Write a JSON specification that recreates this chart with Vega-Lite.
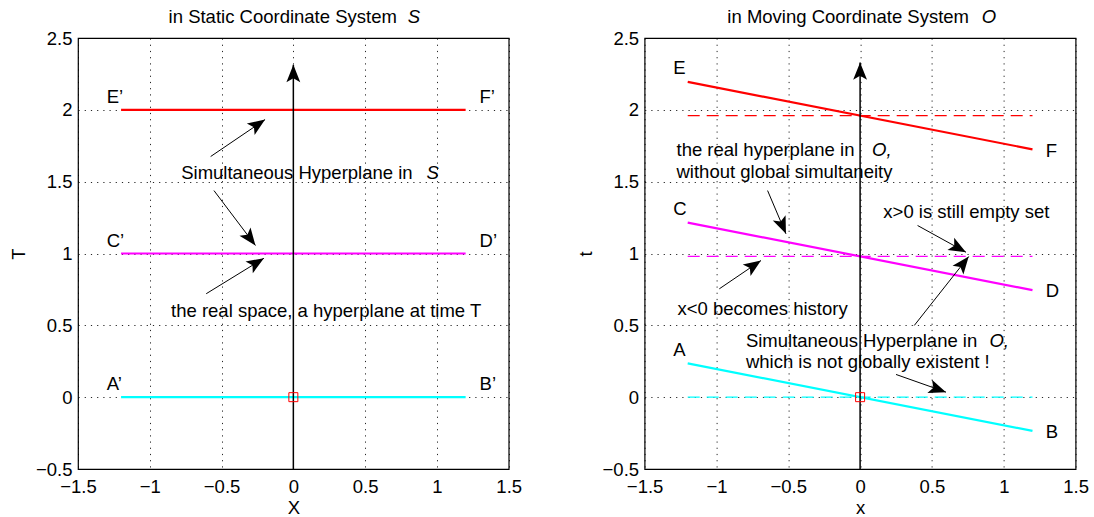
{
  "$schema": "https://vega.github.io/schema/vega-lite/v6.json",
  "background": "white",
  "padding": {"left": 8, "top": 7, "right": 5, "bottom": 0},
  "bounds": "flush",
  "spacing": 135.6,
  "config": {
    "view": {"stroke": "black", "strokeWidth": 1.2},
    "font": "Liberation Sans",
    "axis": {
      "grid": true, "gridColor": "black", "gridDash": [1.2, 5], "gridWidth": 1, "gridOpacity": 0.85,
      "domain": false, "ticks": false,
      "labelFont": "Liberation Sans", "labelFontSize": 18.5, "labelColor": "black",
      "labelFlush": false, "labelOverlap": false, "format": "~g",
      "titleFont": "Liberation Sans", "titleFontSize": 18.5, "titleFontWeight": "normal", "titleColor": "black"
    },
    "axisX": {"labelPadding": 8.5, "titlePadding": 2},
    "axisY": {"labelPadding": 6, "titlePadding": 7},
    "text": {"font": "Liberation Sans", "fontSize": 18.5, "color": "black", "align": "left", "baseline": "middle"}
  },
  "datasets": {
    "linesS": [
      {"s": "AB", "x": -1.2, "y": 0}, {"s": "AB", "x": 1.2, "y": 0},
      {"s": "CD", "x": -1.2, "y": 1}, {"s": "CD", "x": 1.2, "y": 1},
      {"s": "EF", "x": -1.2, "y": 2}, {"s": "EF", "x": 1.2, "y": 2}
    ],
    "linesO": [
      {"s": "AB", "x": -1.2, "y": 0.235}, {"s": "AB", "x": 1.2, "y": -0.235},
      {"s": "CD", "x": -1.2, "y": 1.215}, {"s": "CD", "x": 1.2, "y": 0.745},
      {"s": "EF", "x": -1.2, "y": 2.195}, {"s": "EF", "x": 1.2, "y": 1.725}
    ],
    "dashO": [
      {"s": "AB", "x": -1.2, "y": 0}, {"s": "AB", "x": 1.2, "y": 0},
      {"s": "CD", "x": -1.2, "y": 0.98}, {"s": "CD", "x": 1.2, "y": 0.98},
      {"s": "EF", "x": -1.2, "y": 1.96}, {"s": "EF", "x": 1.2, "y": 1.96}
    ],
    "origin": [{"x": 0, "y": 0}],
    "arrS": [
      {"k": "axis", "x1": 0, "y1": -0.5, "x2": 0, "y2": 2.313},
      {"k": "note", "x1": -0.576, "y1": 1.675, "x2": -0.197, "y2": 1.932},
      {"k": "note", "x1": -0.553, "y1": 1.438, "x2": -0.264, "y2": 1.056},
      {"k": "note", "x1": -0.607, "y1": 0.72, "x2": -0.205, "y2": 0.967}
    ],
    "arrO": [
      {"k": "axis", "x1": 0, "y1": -0.5, "x2": 0, "y2": 2.33},
      {"k": "note", "x1": -0.644, "y1": 1.438, "x2": -0.516, "y2": 1.137},
      {"k": "note", "x1": 0.4, "y1": 1.195, "x2": 0.737, "y2": 1.009},
      {"k": "note", "x1": -0.98, "y1": 0.754, "x2": -0.69, "y2": 0.951},
      {"k": "note", "x1": 0.25, "y1": 0.158, "x2": 0.598, "y2": 0.035},
      {"k": "note", "x1": 0.377, "y1": 0.499, "x2": 0.756, "y2": 0.979}
    ],
    "lblS": [
      {"t": "E’", "x": -1.3, "y": 2.09}, {"t": "F’", "x": 1.297, "y": 2.09},
      {"t": "C’", "x": -1.3, "y": 1.09}, {"t": "D’", "x": 1.297, "y": 1.09},
      {"t": "A’", "x": -1.3, "y": 0.095}, {"t": "B’", "x": 1.297, "y": 0.095}
    ],
    "lblO": [
      {"t": "E", "x": -1.3, "y": 2.29}, {"t": "F", "x": 1.292, "y": 1.712},
      {"t": "C", "x": -1.3, "y": 1.311}, {"t": "D", "x": 1.292, "y": 0.736},
      {"t": "A", "x": -1.3, "y": 0.33}, {"t": "B", "x": 1.292, "y": -0.244}
    ],
    "noteS": [
      {"t": "in Static Coordinate System", "x": -0.869, "y": 2.645, "it": false},
      {"t": "S", "x": 0.797, "y": 2.645, "it": true},
      {"t": "Simultaneous Hyperplane in", "x": -0.781, "y": 1.559, "it": false},
      {"t": "S", "x": 0.928, "y": 1.559, "it": true},
      {"t": "the real space, a hyperplane at time T", "x": -0.852, "y": 0.603, "it": false}
    ],
    "noteO": [
      {"t": "in Moving Coordinate System", "x": -0.924, "y": 2.645, "it": false},
      {"t": "O", "x": 0.846, "y": 2.645, "it": true},
      {"t": "the real hyperplane  in", "x": -1.278, "y": 1.717, "it": false},
      {"t": "O,", "x": 0.083, "y": 1.717, "it": true},
      {"t": "without global simultaneity", "x": -1.278, "y": 1.566, "it": false},
      {"t": "x>0 is still empty set", "x": 0.162, "y": 1.287, "it": false},
      {"t": "x<0 becomes history", "x": -1.271, "y": 0.615, "it": false},
      {"t": "Simultaneous Hyperplane in", "x": -0.795, "y": 0.39, "it": false},
      {"t": "O,", "x": 0.9, "y": 0.39, "it": true},
      {"t": "which is not globally existent !", "x": -0.795, "y": 0.248, "it": false}
    ]
  },
  "hconcat": [
    {
      "width": 430.7,
      "height": 431,
      "layer": [
        {
          "data": {"name": "linesS"},
          "mark": {"type": "line", "strokeWidth": 2.2},
          "encoding": {
            "x": {"field": "x", "type": "quantitative", "scale": {"domain": [-1.5, 1.5], "nice": false, "zero": false}, "axis": {"values": [-1.5, -1, -0.5, 0, 0.5, 1, 1.5], "title": "X"}},
            "y": {"field": "y", "type": "quantitative", "scale": {"domain": [-0.5, 2.5], "nice": false, "zero": false}, "axis": {"values": [-0.5, 0, 0.5, 1, 1.5, 2, 2.5], "title": "T"}},
            "color": {"field": "s", "type": "nominal", "scale": {"domain": ["AB", "CD", "EF"], "range": ["#00ffff", "#ff00ff", "#ff0000"]}, "legend": null},
            "detail": {"field": "s"}
          }
        },
        {
          "data": {"name": "arrS"},
          "transform": [{"filter": "datum.k == 'axis'"}],
          "mark": {"type": "rule", "strokeWidth": 1.5, "color": "black"},
          "encoding": {"x": {"field": "x1", "type": "quantitative"}, "y": {"field": "y1", "type": "quantitative"}, "x2": {"field": "x2"}, "y2": {"field": "y2"}}
        },
        {
          "data": {"name": "arrS"},
          "transform": [{"filter": "datum.k == 'note'"}],
          "mark": {"type": "rule", "strokeWidth": 1, "color": "black"},
          "encoding": {"x": {"field": "x1", "type": "quantitative"}, "y": {"field": "y1", "type": "quantitative"}, "x2": {"field": "x2"}, "y2": {"field": "y2"}}
        },
        {
          "data": {"name": "arrS"},
          "transform": [{"calculate": "atan2(datum.x2 - datum.x1, datum.y2 - datum.y1) * 180 / PI", "as": "ang"}],
          "mark": {"type": "point", "shape": "M0,0L-0.8,2L0,1.55L0.8,2Z", "size": 300, "filled": true, "color": "black", "opacity": 1, "strokeWidth": 0},
          "encoding": {"x": {"field": "x2", "type": "quantitative"}, "y": {"field": "y2", "type": "quantitative"}, "angle": {"field": "ang", "type": "quantitative", "scale": null}}
        },
        {
          "data": {"name": "origin"},
          "mark": {"type": "point", "shape": "square", "size": 81, "filled": false, "color": "#ff0000", "strokeWidth": 1, "opacity": 1},
          "encoding": {"x": {"field": "x", "type": "quantitative"}, "y": {"field": "y", "type": "quantitative"}}
        },
        {
          "data": {"name": "lblS"},
          "mark": {"type": "text"},
          "encoding": {"x": {"field": "x", "type": "quantitative"}, "y": {"field": "y", "type": "quantitative"}, "text": {"field": "t"}}
        },
        {
          "data": {"name": "noteS"},
          "transform": [{"filter": "!datum.it"}],
          "mark": {"type": "text"},
          "encoding": {"x": {"field": "x", "type": "quantitative"}, "y": {"field": "y", "type": "quantitative"}, "text": {"field": "t"}}
        },
        {
          "data": {"name": "noteS"},
          "transform": [{"filter": "datum.it"}],
          "mark": {"type": "text", "fontStyle": "italic"},
          "encoding": {"x": {"field": "x", "type": "quantitative"}, "y": {"field": "y", "type": "quantitative"}, "text": {"field": "t"}}
        }
      ]
    },
    {
      "width": 431,
      "height": 431,
      "layer": [
        {
          "data": {"name": "dashO"},
          "mark": {"type": "line", "strokeWidth": 1.4, "strokeDash": [12, 7]},
          "encoding": {
            "x": {"field": "x", "type": "quantitative", "scale": {"domain": [-1.5, 1.5], "nice": false, "zero": false}, "axis": {"values": [-1.5, -1, -0.5, 0, 0.5, 1, 1.5], "title": "x"}},
            "y": {"field": "y", "type": "quantitative", "scale": {"domain": [-0.5, 2.5], "nice": false, "zero": false}, "axis": {"values": [-0.5, 0, 0.5, 1, 1.5, 2, 2.5], "title": "t"}},
            "color": {"field": "s", "type": "nominal", "scale": {"domain": ["AB", "CD", "EF"], "range": ["#00ffff", "#ff00ff", "#ff0000"]}, "legend": null},
            "detail": {"field": "s"}
          }
        },
        {
          "data": {"name": "linesO"},
          "mark": {"type": "line", "strokeWidth": 2.2},
          "encoding": {
            "x": {"field": "x", "type": "quantitative"},
            "y": {"field": "y", "type": "quantitative"},
            "color": {"field": "s", "type": "nominal", "legend": null},
            "detail": {"field": "s"}
          }
        },
        {
          "data": {"name": "arrO"},
          "transform": [{"filter": "datum.k == 'axis'"}],
          "mark": {"type": "rule", "strokeWidth": 1.5, "color": "black"},
          "encoding": {"x": {"field": "x1", "type": "quantitative"}, "y": {"field": "y1", "type": "quantitative"}, "x2": {"field": "x2"}, "y2": {"field": "y2"}}
        },
        {
          "data": {"name": "arrO"},
          "transform": [{"filter": "datum.k == 'note'"}],
          "mark": {"type": "rule", "strokeWidth": 1, "color": "black"},
          "encoding": {"x": {"field": "x1", "type": "quantitative"}, "y": {"field": "y1", "type": "quantitative"}, "x2": {"field": "x2"}, "y2": {"field": "y2"}}
        },
        {
          "data": {"name": "arrO"},
          "transform": [{"calculate": "atan2(datum.x2 - datum.x1, datum.y2 - datum.y1) * 180 / PI", "as": "ang"}],
          "mark": {"type": "point", "shape": "M0,0L-0.8,2L0,1.55L0.8,2Z", "size": 300, "filled": true, "color": "black", "opacity": 1, "strokeWidth": 0},
          "encoding": {"x": {"field": "x2", "type": "quantitative"}, "y": {"field": "y2", "type": "quantitative"}, "angle": {"field": "ang", "type": "quantitative", "scale": null}}
        },
        {
          "data": {"name": "origin"},
          "mark": {"type": "point", "shape": "square", "size": 81, "filled": false, "color": "#ff0000", "strokeWidth": 1, "opacity": 1},
          "encoding": {"x": {"field": "x", "type": "quantitative"}, "y": {"field": "y", "type": "quantitative"}}
        },
        {
          "data": {"name": "lblO"},
          "mark": {"type": "text"},
          "encoding": {"x": {"field": "x", "type": "quantitative"}, "y": {"field": "y", "type": "quantitative"}, "text": {"field": "t"}}
        },
        {
          "data": {"name": "noteO"},
          "transform": [{"filter": "!datum.it"}],
          "mark": {"type": "text"},
          "encoding": {"x": {"field": "x", "type": "quantitative"}, "y": {"field": "y", "type": "quantitative"}, "text": {"field": "t"}}
        },
        {
          "data": {"name": "noteO"},
          "transform": [{"filter": "datum.it"}],
          "mark": {"type": "text", "fontStyle": "italic"},
          "encoding": {"x": {"field": "x", "type": "quantitative"}, "y": {"field": "y", "type": "quantitative"}, "text": {"field": "t"}}
        }
      ]
    }
  ]
}
